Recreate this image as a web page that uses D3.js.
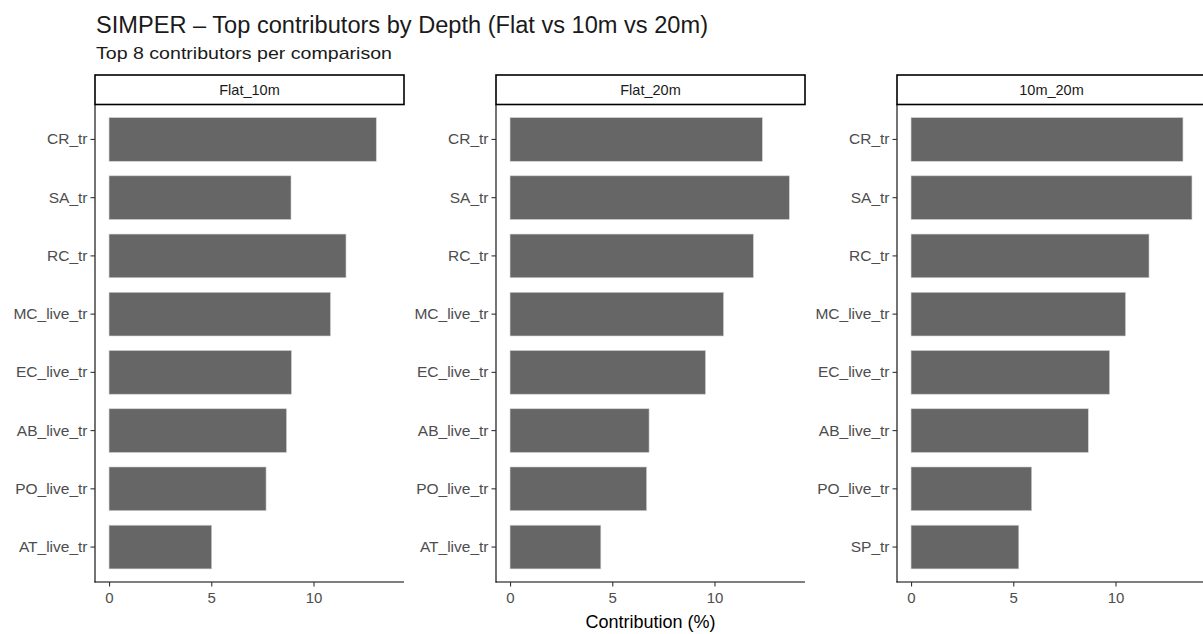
<!DOCTYPE html>
<html>
<head>
<meta charset="utf-8">
<script src="https://cdn.jsdelivr.net/npm/d3@7"></script>
<style>
  html, body { margin: 0; padding: 0; background: #fff; overflow: hidden; }
  svg { display: block; font-family: "Liberation Sans", Arial, sans-serif; }
</style>
</head>
<body>
<div id="chart"></div>
<script>
// ---- Data ----
const titleText = "SIMPER – Top contributors by Depth (Flat vs 10m vs 20m)";
const subtitleText = "Top 8 contributors per comparison";
const xLabel = "Contribution (%)";
const facets = ["Flat_10m", "Flat_20m", "10m_20m"];

const catsFlat10 = ["CR_tr", "SA_tr", "RC_tr", "MC_live_tr", "EC_live_tr", "AB_live_tr", "PO_live_tr", "AT_live_tr"];
const valsFlat10 = [13.07, 8.90, 11.59, 10.83, 8.92, 8.68, 7.68, 5.02];

const catsFlat20 = ["CR_tr", "SA_tr", "RC_tr", "MC_live_tr", "EC_live_tr", "AB_live_tr", "PO_live_tr", "AT_live_tr"];
const valsFlat20 = [12.34, 13.66, 11.90, 10.44, 9.56, 6.80, 6.68, 4.44];

const cats1020 = ["CR_tr", "SA_tr", "RC_tr", "MC_live_tr", "EC_live_tr", "AB_live_tr", "PO_live_tr", "SP_tr"];
const vals1020 = [13.30, 13.74, 11.64, 10.49, 9.71, 8.67, 5.90, 5.27];

const xTicks = [0, 5, 10];

const panelData = [
  { name: facets[0], cats: catsFlat10, vals: valsFlat10 },
  { name: facets[1], cats: catsFlat20, vals: valsFlat20 },
  { name: facets[2], cats: cats1020, vals: vals1020 }
];

// ---- Layout ----
const W = 1203, H = 634;
const panelLefts = [95, 496, 897];
const panelW = 309;
const stripTop = 75, stripBottom = 104.5;
const plotTop = 104.5, plotBottom = 582;

const svg = d3.select("#chart").append("svg")
  .attr("width", W).attr("height", H);

// Titles
svg.append("text")
  .attr("x", 96).attr("y", 33)
  .attr("font-size", 23).attr("fill", "#1a1a1a")
  .attr("textLength", 612).attr("lengthAdjust", "spacingAndGlyphs")
  .text(titleText);

svg.append("text")
  .attr("x", 96).attr("y", 59)
  .attr("font-size", 17).attr("fill", "#1a1a1a")
  .attr("textLength", 296).attr("lengthAdjust", "spacingAndGlyphs")
  .text(subtitleText);

// shared x domain with 5% expansion
const allVals = valsFlat10.concat(valsFlat20, vals1020);
const maxV = d3.max(allVals);
const xDomain = [-0.05 * maxV, maxV * 1.05];

panelData.forEach((p, i) => {
  const left = panelLefts[i];
  const g = svg.append("g");
  const x = d3.scaleLinear().domain(xDomain).range([left, left + panelW]);
  const y = d3.scaleBand().domain(p.cats).range([plotTop, plotBottom])
    .paddingInner(0).paddingOuter(0.1);
  const bh = y.bandwidth() * 0.75;

  // bars
  g.selectAll("rect.bar").data(p.vals).enter().append("rect")
    .attr("class", "bar")
    .attr("x", x(0))
    .attr("y", (d, j) => y(p.cats[j]) + (y.bandwidth() - bh) / 2)
    .attr("width", d => x(d) - x(0))
    .attr("height", bh)
    .attr("fill", "#666666")
    .attr("stroke", "#cfcfcf").attr("stroke-width", 0.6);

  // y axis
  const yAxis = d3.axisLeft(y).tickSize(4.5).tickPadding(3);
  const ya = g.append("g").attr("transform", `translate(${left},0)`).call(yAxis);
  ya.select(".domain").attr("stroke", "#000").attr("stroke-width", 1.1)
    .attr("d", `M0,${plotTop}V${plotBottom + 0.5}`);
  ya.selectAll(".tick line").attr("stroke", "#333").attr("stroke-width", 1.1);
  ya.selectAll(".tick text").attr("font-size", 15.5).attr("fill", "#4d4d4d")
    .attr("font-family", "Liberation Sans, Arial, sans-serif");

  // x axis
  const xAxis = d3.axisBottom(x).tickValues(xTicks).tickSize(4.5).tickPadding(6);
  const xa = g.append("g").attr("transform", `translate(0,${plotBottom})`).call(xAxis);
  xa.select(".domain").attr("stroke", "#000").attr("stroke-width", 1.1)
    .attr("d", `M${left - 0.5},0H${left + panelW}`);
  xa.selectAll(".tick line").attr("stroke", "#333").attr("stroke-width", 1.1);
  xa.selectAll(".tick text").attr("font-size", 15).attr("fill", "#4d4d4d")
    .attr("font-family", "Liberation Sans, Arial, sans-serif");

  // strip
  g.append("rect")
    .attr("x", left).attr("y", stripTop)
    .attr("width", panelW).attr("height", stripBottom - stripTop)
    .attr("fill", "#fff").attr("stroke", "#000").attr("stroke-width", 1.6);
  g.append("text")
    .attr("x", left + panelW / 2).attr("y", (stripTop + stripBottom) / 2)
    .attr("dy", "0.36em").attr("text-anchor", "middle")
    .attr("font-size", 14.5).attr("fill", "#1a1a1a")
    .text(p.name);
});

// x axis title
svg.append("text")
  .attr("x", (panelLefts[0] + panelLefts[2] + panelW) / 2)
  .attr("y", 628)
  .attr("text-anchor", "middle")
  .attr("font-size", 18).attr("fill", "#000")
  .text(xLabel);
</script>
</body>
</html>
